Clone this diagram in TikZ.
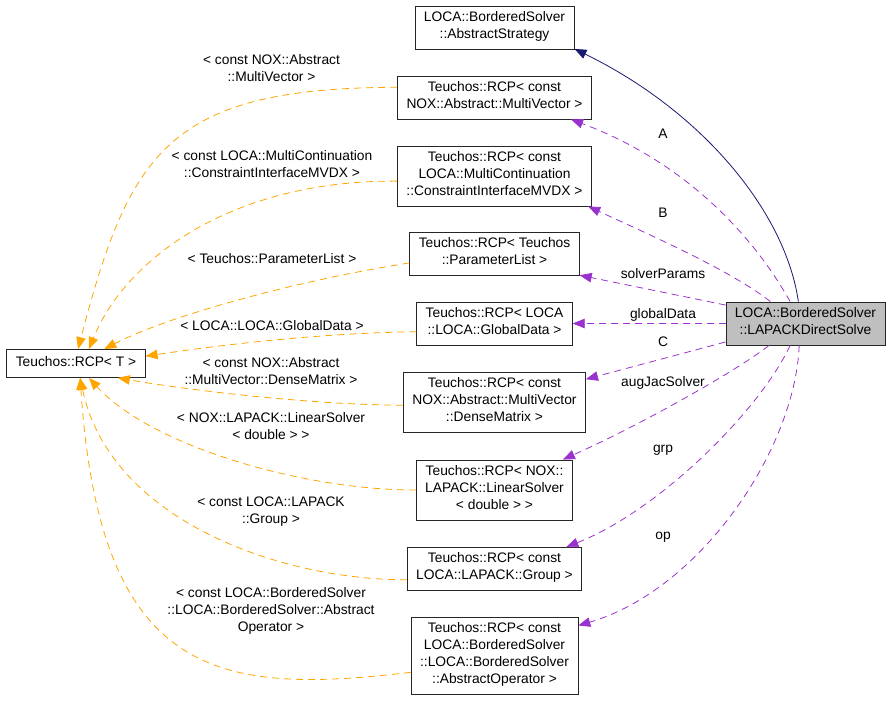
\documentclass[tikz,border=0pt]{standalone}
\usepackage{fontspec}
\setmainfont{Liberation Sans}
\usetikzlibrary{arrows.meta}

\definecolor{dxnavy}{HTML}{191970}
\definecolor{dxpurple}{HTML}{9A32CD}
\definecolor{dxorange}{HTML}{FFA500}
\definecolor{dxgray}{HTML}{BFBFBF}
\newcommand{\dxfont}{\fontsize{13.8}{17}\selectfont}

\tikzset{
    cls/.style={draw=black!85,fill=white,line width=0.8pt,align=center,
        inner xsep=9pt,inner ysep=5.5pt,font=\dxfont,
        execute at begin node=\strut,execute at end node=\strut},
    curcls/.style={cls,fill=dxgray},
    lbl/.style={align=center,inner sep=0pt,font=\dxfont,
        execute at begin node=\strut,execute at end node=\strut},
    inherit/.style={-{Triangle[length=12pt,width=9.5pt]},draw=dxnavy,line width=0.8pt},
    member/.style={-{Triangle[length=12pt,width=9.5pt]},draw=dxpurple,line width=0.8pt,
        dash pattern=on 7pt off 5pt},
    tmpl/.style={-{Triangle[length=12pt,width=9.5pt]},draw=dxorange,line width=0.8pt,
        dash pattern=on 7pt off 5pt}
}

\begin{document}
\begin{tikzpicture}[x=1pt,y=-1pt]
    \useasboundingbox (0,0) rectangle (888,701);

    \node[cls] (strategy) at (494.5,27.5) {LOCA::BorderedSolver\\::AbstractStrategy};
    \node[cls] (mvec) [below of=strategy,node distance=70pt] {Teuchos::RCP< const\\NOX::Abstract::MultiVector >};
    \node[cls] (cimvdx) [below of=mvec,node distance=78.5pt] {Teuchos::RCP< const\\LOCA::MultiContinuation\\::ConstraintInterfaceMVDX >};
    \node[cls] (plist) [below of=cimvdx,node distance=78pt] {Teuchos::RCP< Teuchos\\::ParameterList >};
    \node[cls] (gdata) [below of=plist,node distance=69.5pt] {Teuchos::RCP< LOCA\\::LOCA::GlobalData >};
    \node[cls] (dmat) [below of=gdata,node distance=78.5pt] {Teuchos::RCP< const\\NOX::Abstract::MultiVector\\::DenseMatrix >};
    \node[cls] (lsolv) [below of=dmat,node distance=88pt] {Teuchos::RCP< NOX::\\LAPACK::LinearSolver\\< double > >};
    \node[cls] (lgroup) [below of=lsolv,node distance=79pt] {Teuchos::RCP< const\\LOCA::LAPACK::Group >};
    \node[cls] (aop) [below of=lgroup,node distance=87pt] {Teuchos::RCP< const\\LOCA::BorderedSolver\\::LOCA::BorderedSolver\\::AbstractOperator >};

    \node[curcls] (lapack) [right of=gdata,node distance=311pt] {LOCA::BorderedSolver\\::LAPACKDirectSolve};
    \node[cls] (rcpT) at (76,363.5) {Teuchos::RCP< T >};

    \draw[inherit] (lapack.108) .. controls (785,210) and (700,110) .. (strategy.345);

    \draw[member] (lapack.125) .. controls (750,230) and (680,160) .. (mvec.344);
    \draw[member] (lapack.148) .. controls (730,270) and (650,235) .. (cimvdx.342);
    \draw[member] (lapack.167) -- (plist.346);
    \draw[member] (lapack.west) -- (gdata.east);
    \draw[member] (lapack.193) -- (dmat.14);
    \draw[member] (lapack.211) .. controls (735,372) and (640,425) .. (lsolv.24);
    \draw[member] (lapack.235) .. controls (760,410) and (660,510) .. (lgroup.17);
    \draw[member] (lapack.254) .. controls (795,450) and (700,590) .. (aop.20);
    \node[lbl] (lA) at (663,135) {A};
    \node[lbl] (lB) at (663,214) {B};
    \node[lbl] (lsp) at (663,275) {solverParams};
    \node[lbl] (lgd) at (663,315) {globalData};
    \node[lbl] (lC) at (663,343) {C};
    \node[lbl] (laj) at (663,383) {augJacSolver};
    \node[lbl] (lgrp) at (663,449) {grp};
    \node[lbl] (lop) at (663,536) {op};

    \draw[tmpl] (mvec.174) .. controls (170,88) and (130,150) .. (rcpT.82);
    \draw[tmpl] (cimvdx.183) .. controls (230,180) and (125,260) .. (rcpT.48);
    \draw[tmpl] (plist.186) .. controls (300,280) and (170,315) .. (rcpT.27);
    \draw[tmpl] (gdata.186) .. controls (320,333) and (220,345) .. (rcpT.6);
    \draw[tmpl] (dmat.182) .. controls (320,405) and (200,392) .. (rcpT.341);
    \draw[tmpl] (lsolv.west) .. controls (300,490) and (150,445) .. (rcpT.312);
    \draw[tmpl] (lgroup.187) .. controls (280,580) and (110,520) .. (rcpT.286);
    \draw[tmpl] (aop.191) .. controls (220,695) and (100,680) .. (rcpT.286);
    \node[lbl] (tmv) at (271.5,71) {< const NOX::Abstract\\::MultiVector >};
    \node[lbl] (tci) at (272,167) {< const LOCA::MultiContinuation\\::ConstraintInterfaceMVDX >};
    \node[lbl] (tpl) at (272,260) {< Teuchos::ParameterList >};
    \node[lbl] (tgd) at (272,327) {< LOCA::LOCA::GlobalData >};
    \node[lbl] (tdm) at (271,374) {< const NOX::Abstract\\::MultiVector::DenseMatrix >};
    \node[lbl] (tls) at (271,428.5) {< NOX::LAPACK::LinearSolver\\< double > >};
    \node[lbl] (tgr) at (271,512.5) {< const LOCA::LAPACK\\::Group >};
    \node[lbl] (tao) at (271,612) {< const LOCA::BorderedSolver\\::LOCA::BorderedSolver::Abstract\\Operator >};
\end{tikzpicture}
\end{document}
